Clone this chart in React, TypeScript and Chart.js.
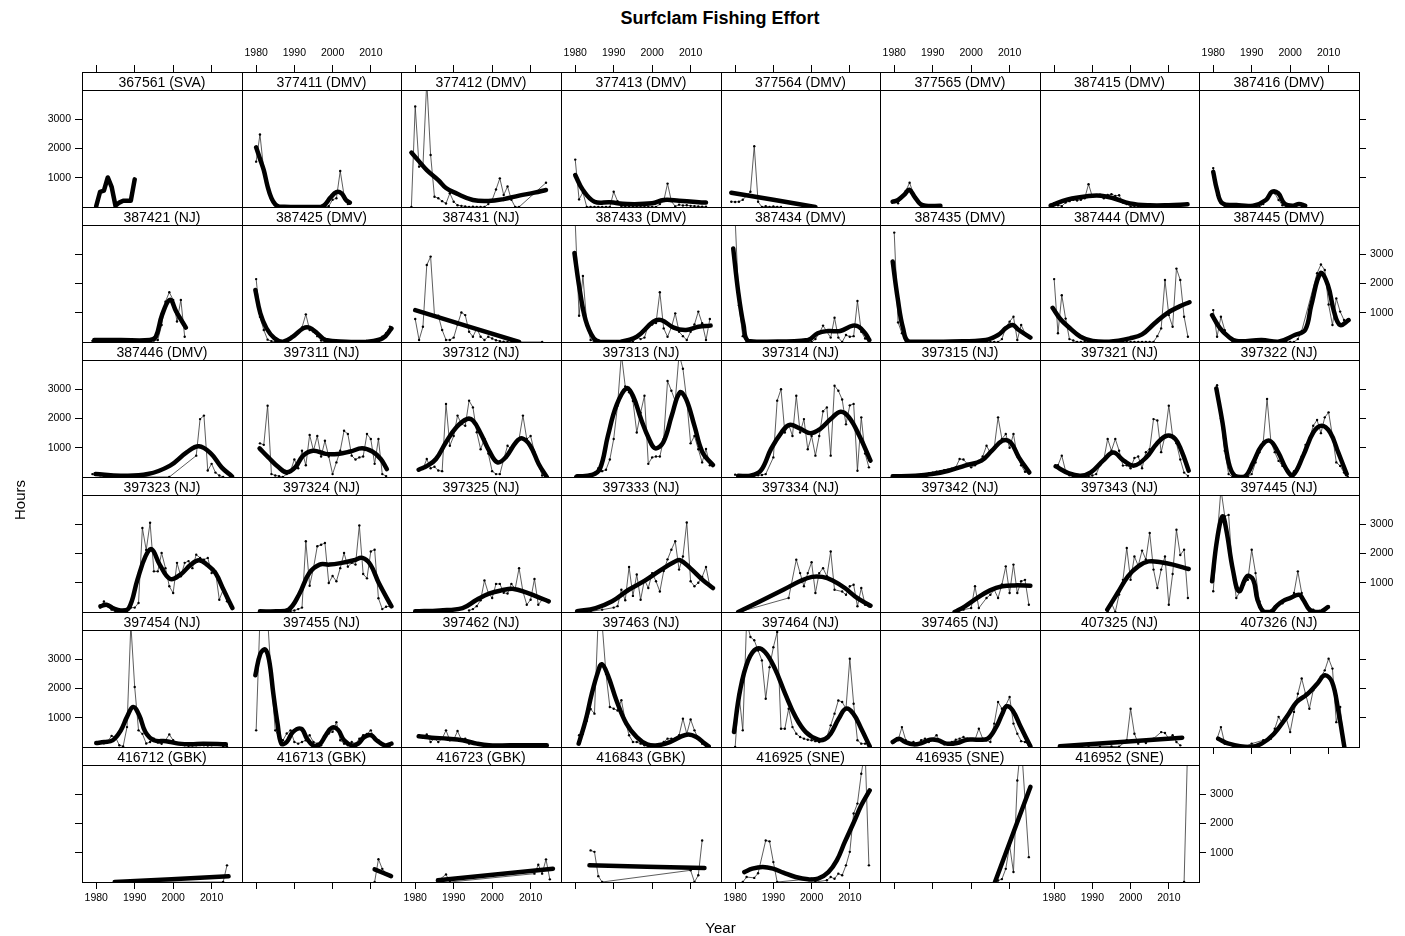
import React, { useEffect, useRef } from 'react';
import { Chart, registerables } from 'chart.js';

Chart.register(...registerables);

type Pt = [number, number];

// ---------- axis ticks / ranges ----------
const YEAR_TICKS = [1980, 1990, 2000, 2010];
const HOUR_TICKS = [1000, 2000, 3000];
const YEAR_MIN = 1976.3;
const YEAR_MAX = 2017.9;
const HOURS_TOP = 4000;

// ---------- data: yearly effort (thin line) and smoothed fit (thick line) ----------
const eff_367561: Pt[] = [[1980,30],[1981,520],[1982,560],[1983,1010],[1984,690],[1985,45],[1986,150],[1987,215],[1989,215],[1990,945]];
const fit_367561: Pt[] = [[1980,30],[1981,520],[1982,560],[1983,1010],[1984,690],[1985,45],[1986,150],[1987,215],[1989,215],[1990,945]];

const eff_377411: Pt[] = [[1980,1550],[1981,2480],[1982,1250],[1983,700],[1984,260],[1985,70],[1986,0],[1987,0],[1988,0],[1989,0],[1990,0],[1991,0],[1992,0],[1993,20],[1994,0],[1995,0],[1996,0],[1997,0],[1998,0],[1999,30],[2000,250],[2001,300],[2002,1230],[2003,400],[2004,100]];
const fit_377411: Pt[] = [[1980,2040],[1981,1650],[1982,1260],[1983,700],[1984,300],[1985,90],[1986,20],[1990,0],[1994,0],[1997,10],[1998,80],[1999.5,330],[2001,510],[2002.3,470],[2003.5,240],[2004.5,150]];

const eff_377412: Pt[] = [[1979,0],[1980,3440],[1981,1380],[1982,1400],[1983,4300],[1984,1780],[1985,350],[1986,300],[1987,200],[1988,120],[1989,470],[1990,180],[1991,60],[1992,40],[1993,20],[1994,0],[1995,10],[1996,0],[1997,0],[1998,0],[1999,100],[2000,240],[2001,600],[2002,980],[2003,410],[2004,700],[2005,250],[2006,0],[2007,0],[2014,830]];
const fit_377412: Pt[] = [[1979,1860],[1981,1560],[1983,1260],[1986,920],[1988,650],[1990.7,465],[1995,240],[1999,205],[2003,270],[2007,390],[2011,490],[2014,580]];

const eff_377413: Pt[] = [[1980,1620],[1981,260],[1982,500],[1983,0],[1984,0],[1985,0],[1986,0],[1987,0],[1988,0],[1989,0],[1990,520],[1991,200],[1992,0],[1993,0],[1994,0],[1995,0],[1996,0],[1997,0],[1998,0],[1999,0],[2000,0],[2001,0],[2002,100],[2003,200],[2004,800],[2005,200],[2006,20],[2007,80],[2008,50],[2009,60],[2010,40],[2011,30],[2012,20],[2013,10],[2014,10]];
const fit_377413: Pt[] = [[1980,1090],[1982,580],[1985,180],[1989,160],[1993.5,100],[2000,125],[2003,240],[2007,215],[2014,150]];

const eff_377564: Pt[] = [[1979,180],[1980,170],[1981,180],[1982,250],[1984,520],[1985,2080],[1986,180],[1987,0],[1988,30],[1989,0],[1990,20],[1991,0],[1992,0]];
const fit_377564: Pt[] = [[1979,490],[2001,0]];

const eff_377565: Pt[] = [[1980,205],[1981,130],[1982,350],[1983,550],[1984,830],[1985,450],[1986,200],[1987,50],[1988,20],[1989,0],[1990,0],[1991,0],[1992,0]];
const fit_377565: Pt[] = [[1979.6,180],[1981,240],[1982.8,445],[1983.9,590],[1985.3,350],[1986.8,100],[1988.2,40],[1992,40]];

const eff_387415: Pt[] = [[1979,80],[1980,130],[1981,60],[1982,30],[1983,150],[1984,200],[1985,250],[1986,220],[1987,250],[1988,300],[1989,780],[1990,350],[1991,380],[1992,420],[1993,300],[1994,410],[1995,440],[1996,380],[1997,400],[1998,150],[1999,100],[2000,20],[2001,0],[2002,0],[2003,0],[2004,30],[2005,0],[2006,20],[2007,0],[2008,50],[2009,0],[2010,40],[2011,60],[2012,80],[2013,60],[2014,100]];
const fit_387415: Pt[] = [[1979.1,45],[1983.6,260],[1989,375],[1992.3,385],[1995.5,300],[1999.8,125],[2005,57],[2010,60],[2014.9,90]];

const eff_387416: Pt[] = [[1980,1330],[1981,410],[1982,125],[1983,30],[1984,0],[1985,0],[1986,0],[1987,0],[1988,0],[1989,0],[1990,0],[1991,0],[1992,0],[1993,100],[1994,250],[1995,520],[1996,470],[1997,240],[1998,60],[1999,0],[2000,0],[2001,20],[2002,100],[2003,40],[2004,0]];
const fit_387416: Pt[] = [[1980,1200],[1981,580],[1982.4,125],[1986,68],[1990.4,45],[1993.7,240],[1995.3,520],[1996.9,470],[1998.5,125],[2000.7,45],[2002.3,100],[2003.9,45]];

const eff_387421: Pt[] = [[1979,40],[1980,50],[1981,60],[1982,40],[1983,50],[1984,60],[1985,40],[1986,50],[1987,60],[1988,50],[1989,40],[1990,60],[1991,50],[1992,40],[1993,50],[1994,60],[1995,50],[1996,70],[1997,580],[1998,1380],[1999,1700],[2000,1440],[2001,700],[2002,1440],[2003,180]];
const fit_387421: Pt[] = [[1979.5,70],[1986.4,68],[1993.9,68],[1995.5,180],[1997.1,920],[1999.2,1440],[2000.8,1040],[2003.3,490]];

const eff_387425: Pt[] = [[1980,2150],[1981,865],[1982,410],[1983,80],[1984,30],[1985,0],[1986,0],[1987,0],[1988,20],[1989,100],[1990,200],[1991,350],[1992,500],[1993,945],[1994,410],[1995,350],[1996,200],[1997,50],[1998,0],[1999,0],[2000,0],[2001,0],[2002,0],[2003,0],[2004,0],[2005,0],[2006,0],[2007,0],[2008,0],[2009,0],[2010,0],[2011,0],[2012,0],[2013,180],[2014,300],[2015,520]];
const fit_387425: Pt[] = [[1979.8,1780],[1981.1,980],[1982.7,470],[1984.8,125],[1987,11],[1989.6,180],[1992.3,465],[1993.9,490],[1996,300],[1998.2,68],[2003.5,11],[2008.8,11],[2013.1,125],[2015.4,465]];

const eff_387431: Pt[] = [[1980,785],[1981,70],[1982,520],[1983,2630],[1984,2920],[1985,920],[1986,900],[1987,410],[1988,70],[1989,70],[1990,150],[1991,600],[1992,1010],[1993,920],[1994,350],[1995,180],[1996,465],[1997,180],[1998,70],[1999,180],[2000,120],[2001,60],[2002,30],[2003,10],[2004,0],[2005,0],[2013,0]];
const fit_387431: Pt[] = [[1980,1090],[2007,0]];

const eff_387433: Pt[] = [[1980,4100],[1981,900],[1982,2260],[1983,640],[1984,68],[1985,0],[1986,0],[1987,0],[1988,0],[1989,0],[1990,0],[1991,0],[1992,0],[1993,0],[1994,0],[1995,0],[1996,180],[1997,100],[1998,150],[1999,580],[2000,600],[2001,650],[2002,1700],[2003,465],[2004,180],[2005,500],[2006,980],[2007,350],[2008,200],[2009,68],[2010,350],[2011,600],[2012,1040],[2013,640],[2014,68],[2015,785]];
const fit_387433: Pt[] = [[1979.8,3040],[1981.1,1840],[1982.7,750],[1984.8,125],[1986.4,11],[1991.8,11],[1996,180],[2000.3,695],[2002.4,750],[2005.6,490],[2008.8,410],[2012,520],[2015.2,560]];

const eff_387434: Pt[] = [[1980,4200],[1981,1260],[1982,200],[1983,0],[1984,0],[1985,0],[1986,0],[1987,0],[1988,0],[1989,0],[1990,0],[1991,0],[1992,0],[1993,0],[1994,0],[1995,0],[1996,0],[1997,0],[1998,0],[1999,0],[2000,0],[2001,100],[2002,300],[2003,560],[2004,350],[2005,150],[2006,830],[2007,150],[2008,0],[2009,240],[2010,180],[2011,200],[2012,1400],[2013,350],[2014,120],[2015,30]];
const fit_387434: Pt[] = [[1979.5,3200],[1980.8,1720],[1982.2,580],[1983.4,34],[1988.3,11],[1999,68],[2001.6,300],[2004.3,375],[2007.5,375],[2010.8,560],[2012.4,520],[2014,300],[2015.1,68]];

const eff_387435: Pt[] = [[1980,3740],[1981,670],[1982,300],[1983,0],[1984,0],[1985,0],[1986,0],[1987,0],[1988,0],[1989,0],[1990,0],[1991,0],[1992,0],[1993,0],[1994,0],[1995,0],[1996,0],[1997,0],[1998,0],[1999,0],[2000,0],[2001,0],[2002,0],[2003,0],[2004,0],[2005,0],[2006,0],[2007,0],[2008,100],[2009,500],[2010,695],[2011,865],[2012,68],[2013,580],[2014,300],[2015,150]];
const fit_387435: Pt[] = [[1979.6,2750],[1980.9,1490],[1982.3,465],[1983.9,11],[1995,20],[2003.8,68],[2007,240],[2009.2,490],[2010.8,580],[2012.4,410],[2015.4,150]];

const eff_387444: Pt[] = [[1980,2150],[1981,300],[1982,1600],[1983,800],[1984,100],[1985,50],[1986,0],[1987,0],[1988,0],[1989,0],[1990,0],[1991,0],[1992,0],[1993,0],[1994,0],[1995,0],[1996,0],[1997,0],[1998,0],[1999,0],[2000,0],[2001,0],[2002,0],[2003,0],[2004,0],[2005,0],[2006,0],[2007,200],[2008,465],[2009,2120],[2010,920],[2011,520],[2012,2510],[2013,2120],[2014,865],[2015,180]];
const fit_387444: Pt[] = [[1979.6,1170],[1981.5,805],[1983.7,520],[1986.9,180],[1990.1,34],[1994.4,11],[1999.8,125],[2003,260],[2006.3,640],[2009.5,980],[2012.7,1210],[2015.4,1360]];

const eff_387445: Pt[] = [[1980,1090],[1981,180],[1982,865],[1983,400],[1984,180],[1985,0],[1986,0],[1987,0],[1988,0],[1989,0],[1990,0],[1991,0],[1992,0],[1993,0],[1994,0],[1995,0],[1996,0],[1997,0],[1998,0],[1999,0],[2000,0],[2001,0],[2002,100],[2003,375],[2007,2350],[2008,2650],[2009,2460],[2010,1280],[2011,580],[2012,1490],[2013,1040],[2014,750]];
const fit_387445: Pt[] = [[1979.7,920],[1981.8,465],[1984,180],[1986.1,34],[1992.6,68],[1996.9,11],[2001.2,240],[2003.9,410],[2005.5,1260],[2007.9,2350],[2009.8,1950],[2011.4,1040],[2013,580],[2015.2,750]];

const eff_387446: Pt[] = [[1979,100],[1980,80],[1981,60],[1982,50],[1983,40],[1984,30],[1985,20],[1986,10],[1987,0],[1988,0],[1989,0],[1990,0],[1999,0],[2006,730],[2007,1980],[2008,2100],[2009,220],[2010,450],[2011,150],[2012,50],[2013,0]];
const fit_387446: Pt[] = [[1979.8,100],[1986.4,45],[1993.4,100],[1999.2,390],[2003.5,840],[2006.7,1050],[2009.9,790],[2012.6,330],[2015.3,23]];

const eff_397311: Pt[] = [[1981,1150],[1982,1100],[1983,2440],[1984,100],[1985,50],[1986,30],[1987,0],[1988,100],[1989,200],[1990,600],[1991,300],[1992,900],[1993,400],[1994,1440],[1995,900],[1996,1400],[1997,700],[1998,1240],[1999,700],[2000,100],[2001,500],[2002,900],[2003,1580],[2004,1470],[2005,730],[2006,600],[2007,670],[2008,700],[2009,1470],[2010,1300],[2011,450],[2012,1300],[2013,100],[2014,30]];
const fit_397311: Pt[] = [[1980.9,980],[1983.2,670],[1985.9,330],[1988,160],[1990.2,330],[1992.3,730],[1994.9,900],[1998.2,790],[2001.4,790],[2004.6,870],[2007.7,980],[2010.4,870],[2012.6,615],[2014.2,270]];

const eff_397312: Pt[] = [[1981,270],[1982,270],[1983,615],[1984,300],[1985,350],[1986,220],[1987,200],[1988,2500],[1989,1070],[1990,1400],[1991,2100],[1992,1810],[1993,1750],[1994,2610],[1995,2380],[1996,1530],[1997,950],[1998,1300],[1999,800],[2000,200],[2001,100],[2002,100],[2003,600],[2004,1070],[2005,950],[2006,1200],[2007,1300],[2008,2100],[2009,1300],[2010,1400],[2011,850],[2012,450],[2013,50]];
const fit_397312: Pt[] = [[1980.9,250],[1983.2,390],[1985.4,615],[1988,1190],[1990.7,1700],[1993.4,1980],[1995,1930],[1997.1,1470],[1999.2,900],[2001.4,500],[2003.5,670],[2006.2,1190],[2007.8,1320],[2009.9,1070],[2012.1,445],[2014.2,0]];

const eff_397313: Pt[] = [[1980,20],[1981,30],[1982,50],[1983,60],[1984,100],[1985,150],[1986,300],[1987,200],[1988,250],[1989,600],[1990,1300],[1991,2440],[1992,4200],[1993,3100],[1994,2900],[1995,2600],[1996,1520],[1997,2200],[1998,2780],[1999,450],[2000,670],[2001,700],[2002,700],[2003,1300],[2004,3280],[2005,2950],[2006,2600],[2007,4200],[2008,3700],[2009,2610],[2010,1150],[2011,1400],[2012,950],[2013,500],[2014,960],[2015,400]];
const fit_397313: Pt[] = [[1980.5,23],[1984.3,68],[1986.4,270],[1988.5,1410],[1990.7,2440],[1993.3,3030],[1995,2780],[1997.1,1980],[1999.2,1300],[2000.8,980],[2002.9,1190],[2005.1,2100],[2007.2,2890],[2008.8,2670],[2011,1750],[2013.1,840],[2015.8,410]];

const eff_397314: Pt[] = [[1980,80],[1981,60],[1982,40],[1983,50],[1984,60],[1985,70],[1986,60],[1987,70],[1988,100],[1990,670],[1991,2610],[1992,3000],[1993,1520],[1994,1800],[1995,1400],[1996,2780],[1997,1520],[1998,1980],[1999,950],[2000,1400],[2001,730],[2002,1400],[2003,2250],[2004,2380],[2005,730],[2006,3120],[2007,2950],[2008,2650],[2009,1800],[2010,2450],[2011,2500],[2012,215],[2013,2040],[2014,800],[2015,330]];
const fit_397314: Pt[] = [[1980.8,45],[1984,45],[1986.7,215],[1989.4,960],[1992.1,1520],[1994.2,1780],[1996.9,1660],[1999.6,1500],[2002.2,1640],[2005,1980],[2007.6,2230],[2009.8,2040],[2012.5,1410],[2015.4,560]];

const eff_397315: Pt[] = [[1980,30],[1981,20],[1982,30],[1983,40],[1984,30],[1985,50],[1986,60],[1987,80],[1988,100],[1989,120],[1990,150],[1991,180],[1992,200],[1993,230],[1994,250],[1995,280],[1996,330],[1997,615],[1998,600],[1999,450],[2000,330],[2001,400],[2002,550],[2003,700],[2004,1070],[2005,820],[2006,1000],[2007,2040],[2008,1300],[2009,1470],[2010,1000],[2011,1470],[2012,700],[2013,400],[2014,180],[2015,120]];
const fit_397315: Pt[] = [[1979.6,23],[1985.5,45],[1989.8,100],[1994.1,215],[1998.4,390],[2002.7,560],[2005.4,900],[2008.1,1240],[2010.2,1190],[2012.4,670],[2015.1,160]];

const eff_397321: Pt[] = [[1981,400],[1982,730],[1983,200],[1984,60],[1985,20],[1986,0],[1987,0],[1988,0],[1989,10],[1990,50],[1991,100],[1992,400],[1993,600],[1994,1300],[1995,900],[1996,1300],[1997,900],[1998,390],[1999,400],[2000,300],[2001,650],[2002,700],[2003,300],[2004,850],[2005,950],[2006,1980],[2007,1930],[2008,850],[2009,1400],[2010,2440],[2011,1400],[2012,1150],[2013,600],[2014,150],[2015,40]];
const fit_397321: Pt[] = [[1980.4,365],[1983.7,135],[1986.9,45],[1989.6,160],[1992.8,560],[1995.5,840],[1998.2,560],[2000.9,390],[2004.1,670],[2006.8,1130],[2009.5,1410],[2011.7,1300],[2013.3,900],[2015.2,215]];

const eff_397322: Pt[] = [[1981,3140],[1982,2000],[1983,900],[1984,100],[1985,0],[1986,0],[1987,0],[1988,0],[1989,0],[1990,100],[1991,500],[1992,850],[1993,1200],[1994,2670],[1995,1200],[1996,850],[1997,550],[1998,380],[1999,250],[2000,100],[2001,200],[2002,350],[2003,700],[2004,1100],[2005,1300],[2006,1750],[2007,1950],[2008,1500],[2009,2040],[2010,2210],[2011,1400],[2012,500],[2013,380],[2014,150],[2015,0]];
const fit_397322: Pt[] = [[1980.8,3030],[1982.4,1870],[1984,500],[1985.6,45],[1988.3,23],[1990.4,500],[1992.6,1070],[1994.7,1240],[1996.9,840],[1999,270],[2000.7,60],[2003.4,730],[2006,1520],[2008.2,1750],[2010.4,1520],[2012.5,840],[2014.7,100]];

const eff_397323: Pt[] = [[1981,150],[1982,360],[1983,200],[1984,80],[1985,0],[1986,0],[1987,0],[1988,20],[1989,150],[1990,150],[1991,310],[1992,2870],[1993,2120],[1994,3050],[1995,1390],[1996,1390],[1997,2020],[1998,1500],[1999,880],[2000,650],[2001,1680],[2002,1220],[2003,1680],[2004,1740],[2005,1500],[2006,1960],[2007,1850],[2008,1790],[2009,1850],[2010,1330],[2011,1390],[2012,420],[2013,760],[2014,365],[2015,195]];
const fit_397323: Pt[] = [[1981.1,195],[1982.7,250],[1984.3,135],[1986.4,55],[1988.5,135],[1990.7,1100],[1992.8,1900],[1994.4,2150],[1996.5,1620],[1999.2,1130],[2001.9,1280],[2004.6,1620],[2006.7,1770],[2008.8,1620],[2011,1330],[2013.1,760],[2015.4,135]];

const eff_397324: Pt[] = [[1981,0],[1982,0],[1983,10],[1984,0],[1985,0],[1986,10],[1987,0],[1988,20],[1989,30],[1990,50],[1991,100],[1992,150],[1993,2420],[1994,900],[1995,1500],[1996,2250],[1997,2300],[1998,2360],[1999,990],[2000,1230],[2001,1050],[2002,1500],[2003,2020],[2004,1550],[2005,1680],[2006,1620],[2007,2960],[2008,1300],[2009,1150],[2010,2070],[2011,2130],[2012,470],[2013,100],[2014,180],[2015,200]];
const fit_397324: Pt[] = [[1981,23],[1985.3,23],[1988.5,80],[1991.2,590],[1993.9,1330],[1996.6,1620],[1999.2,1620],[2002.4,1680],[2005.6,1770],[2007.8,1850],[2009.9,1620],[2012.1,990],[2015.4,195]];

const eff_397325: Pt[] = [[1994,50],[1995,100],[1996,200],[1997,400],[1998,1080],[1999,650],[2000,480],[2001,960],[2002,960],[2003,660],[2004,630],[2005,960],[2006,800],[2007,1500],[2008,700],[2009,250],[2010,420],[2011,1130],[2012,250],[2013,420],[2014,420]];
const fit_397325: Pt[] = [[1980,23],[1986.4,55],[1992.3,135],[1996,420],[1999.2,630],[2002.4,740],[2005.6,790],[2008.8,670],[2011.5,535],[2014.7,365]];

const eff_397333: Pt[] = [[1981,0],[1984,20],[1987,80],[1990,150],[1991,200],[1992,760],[1993,400],[1994,1540],[1995,550],[1996,1280],[1997,420],[1998,1100],[1999,820],[2000,1330],[2001,1050],[2002,700],[2003,1400],[2004,1800],[2005,2130],[2006,2420],[2007,1450],[2008,1900],[2009,3060],[2010,1050],[2011,880],[2012,1000],[2013,1200],[2014,1540],[2015,880]];
const fit_397333: Pt[] = [[1980.5,23],[1985.3,135],[1989.6,365],[1993.9,760],[1998.2,1080],[2002.4,1450],[2005.6,1700],[2007.2,1770],[2009.9,1500],[2013.1,1100],[2015.8,820]];

const eff_397334: Pt[] = [[1981,0],[1994,480],[1996,1790],[1997,1330],[1998,880],[1999,1330],[2000,1700],[2001,650],[2002,1330],[2003,1500],[2004,1220],[2005,2070],[2006,760],[2008,700],[2009,590],[2010,880],[2011,930],[2012,195],[2013,820],[2014,250],[2015,195]];
const fit_397334: Pt[] = [[1980.8,0],[1992.6,760],[1996.9,1050],[2000.1,1200],[2002.8,1200],[2005.5,1080],[2008.7,820],[2011.9,480],[2015.4,215]];

const eff_397342: Pt[] = [[1996,0],[1998,80],[2000,135],[2001,880],[2002,135],[2004,480],[2005,590],[2006,760],[2007,480],[2008,940],[2009,1560],[2010,650],[2011,1620],[2012,650],[2013,1050],[2014,1100],[2015,250]];
const fit_397342: Pt[] = [[1995.7,0],[1998.4,195],[2001.6,480],[2004.9,740],[2008.1,880],[2011.3,910],[2015.4,900]];

const eff_397343: Pt[] = [[1994,20],[1995,300],[1996,0],[1997,600],[1998,1100],[1999,2190],[2000,1100],[2001,1900],[2002,1580],[2003,2100],[2004,1800],[2005,2700],[2006,1450],[2007,820],[2008,1450],[2009,1900],[2010,250],[2011,1300],[2012,2810],[2013,1950],[2014,2130],[2015,480]];
const fit_397343: Pt[] = [[1993.9,80],[1996.6,650],[1999.3,1220],[2002,1560],[2004.7,1730],[2007.9,1700],[2011.1,1620],[2015.2,1470]];

const eff_397445: Pt[] = [[1980,710],[1981,2500],[1982,4200],[1983,3270],[1984,3320],[1985,1450],[1986,480],[1987,710],[1988,940],[1989,1100],[1990,2130],[1991,1330],[1992,365],[1993,80],[1994,0],[1995,50],[1996,190],[1997,250],[1998,300],[1999,420],[2000,480],[2001,650],[2002,1390],[2003,650],[2004,300],[2005,135],[2006,80],[2007,0],[2008,20],[2009,100],[2010,200]];
const fit_397445: Pt[] = [[1979.7,1050],[1981,2470],[1982.4,3270],[1983.4,2810],[1985.1,1450],[1986.7,710],[1988.8,1220],[1990.4,1100],[1991.5,420],[1993.1,0],[1995,0],[1996.4,195],[1998,365],[2000.1,480],[2002.3,590],[2003.4,420],[2005,80],[2006.6,0],[2008.2,23],[2009.8,170]];

const eff_397454: Pt[] = [[1980,150],[1981,150],[1982,130],[1983,200],[1984,380],[1985,340],[1986,60],[1987,20],[1988,680],[1989,4200],[1990,2050],[1991,570],[1992,450],[1993,120],[1994,170],[1995,280],[1996,150],[1997,110],[1998,230],[1999,430],[2000,230],[2001,110],[2002,80],[2003,60],[2004,40],[2005,50],[2006,60],[2007,70],[2008,60],[2009,50],[2010,60],[2011,80],[2012,90],[2013,30],[2014,20]];
const fit_397454: Pt[] = [[1980,135],[1982.1,170],[1984.3,230],[1986.4,570],[1988,1030],[1989.6,1370],[1991.2,1080],[1992.8,510],[1995,230],[1998.2,200],[2001.4,115],[2004.6,90],[2007.8,115],[2013.7,90]];

const eff_397455: Pt[] = [[1980,570],[1981,4400],[1982,4600],[1983,4400],[1984,2280],[1985,570],[1986,340],[1987,230],[1988,460],[1989,570],[1990,170],[1991,115],[1992,170],[1993,230],[1994,400],[1995,170],[1996,115],[1997,60],[1998,400],[1999,460],[2000,520],[2001,850],[2002,230],[2003,115],[2004,60],[2005,170],[2006,115],[2007,280],[2008,400],[2009,450],[2010,570],[2011,280],[2012,230],[2013,115],[2014,60],[2015,40]];
const fit_397455: Pt[] = [[1979.8,2450],[1981.1,3190],[1982.4,3330],[1983.4,2960],[1984.5,1820],[1985.6,800],[1986.6,115],[1988,170],[1989.6,510],[1991.8,625],[1993.3,285],[1994.9,57],[1996.6,90],[1998.2,400],[1999.8,660],[2001.4,590],[2003,230],[2005.1,57],[2006.7,115],[2008.3,340],[2010.1,400],[2011.5,230],[2013.7,57],[2015.4,115]];

const eff_397462: Pt[] = [[1981,400],[1982,320],[1983,430],[1984,170],[1985,285],[1986,170],[1987,285],[1988,570],[1989,230],[1990,250],[1991,545],[1992,250],[1993,285],[1994,115],[1995,170],[1996,115],[1997,80],[1998,60],[1999,40],[2000,30],[2001,20],[2002,30],[2003,40],[2004,20],[2005,30],[2006,40],[2007,30],[2008,20],[2009,30],[2010,40],[2011,60],[2012,30],[2013,20],[2014,10]];
const fit_397462: Pt[] = [[1980.9,365],[1984.3,320],[1988.5,285],[1992.3,230],[1996,115],[1999.2,57],[2004.6,57],[2014.2,57]];

const eff_397463: Pt[] = [[1981,400],[1982,450],[1983,900],[1984,1300],[1985,1140],[1986,4500],[1987,4200],[1988,2500],[1989,1370],[1990,1310],[1991,1250],[1992,1600],[1993,910],[1994,400],[1995,170],[1996,170],[1997,115],[1998,60],[1999,40],[2000,23],[2001,23],[2002,60],[2003,170],[2004,285],[2005,285],[2006,285],[2007,400],[2008,970],[2009,450],[2010,940],[2011,570],[2012,285],[2013,115],[2014,23]];
const fit_397463: Pt[] = [[1980.9,115],[1982.7,910],[1984.3,1820],[1985.9,2560],[1986.9,2830],[1988.5,2450],[1990.7,1600],[1993.3,800],[1996,340],[1998.7,90],[2001.4,57],[2004.6,170],[2007.2,340],[2009.4,430],[2011.5,340],[2013.7,115],[2014.7,23]];

const eff_397464: Pt[] = [[1980,0],[1981,1820],[1982,570],[1983,4300],[1984,3760],[1985,3650],[1986,3300],[1987,2960],[1988,1650],[1989,2730],[1990,3410],[1991,3930],[1992,625],[1993,625],[1994,1310],[1995,680],[1996,455],[1997,340],[1998,285],[1999,250],[2000,230],[2001,200],[2002,170],[2003,230],[2004,340],[2005,740],[2006,1140],[2007,1590],[2008,1540],[2009,1310],[2010,3020],[2011,1480],[2012,230],[2013,115],[2014,115]];
const fit_397464: Pt[] = [[1979.7,510],[1981.3,1940],[1983.4,2960],[1985.6,3360],[1987.8,3250],[1990.4,2680],[1993.1,1820],[1995.8,1030],[1998.5,510],[2001.7,250],[2003.5,270],[2005,455],[2007.1,970],[2009,1310],[2010.9,1140],[2013,625],[2015.2,23]];

const eff_397465: Pt[] = [[1980,170],[1981,230],[1982,680],[1983,230],[1984,115],[1985,170],[1986,90],[1987,230],[1988,285],[1989,170],[1991,400],[1992,170],[1993,90],[1994,115],[1995,170],[1996,250],[1997,285],[1998,340],[1999,285],[2000,250],[2001,250],[2002,625],[2003,285],[2004,230],[2005,170],[2006,800],[2007,1540],[2008,1310],[2009,1420],[2010,1710],[2011,800],[2012,455],[2013,200],[2014,170],[2015,60]];
const fit_397465: Pt[] = [[1979.6,170],[1981.2,285],[1982.8,170],[1985,90],[1987.1,135],[1989.3,250],[1991.4,230],[1993.6,115],[1996.3,135],[1998.9,250],[2001.6,250],[2004.3,285],[2006.5,680],[2008.1,1140],[2009.2,1390],[2010.8,1250],[2012.9,680],[2015.4,23]];

const eff_407325: Pt[] = [[1989,0],[1992,10],[1995,20],[1997,10],[1999,230],[2000,1310],[2001,455],[2002,115],[2003,230],[2004,135],[2005,230],[2006,285],[2008,510],[2009,480],[2010,285],[2011,400],[2012,170],[2013,57]];
const fit_407325: Pt[] = [[1981.5,23],[2013.5,320]];

const eff_407326: Pt[] = [[1981,285],[1982,680],[1983,115],[1985,60],[1988,0],[1990,115],[1993,230],[1995,285],[1996,625],[1997,1030],[1998,800],[1999,970],[2000,510],[2001,1200],[2002,1820],[2003,2340],[2004,1820],[2005,1310],[2006,1940],[2007,2170],[2008,2400],[2009,2620],[2010,3020],[2011,2680],[2012,850],[2013,1370],[2014,0]];
const fit_407326: Pt[] = [[1981.3,285],[1984,115],[1989.4,0],[1992.6,115],[1995.8,455],[1999.1,1030],[2001.7,1540],[2004.4,1800],[2007.1,2170],[2009,2450],[2010.9,2220],[2012.5,1250],[2014.1,0]];

const eff_416712: Pt[] = [[1985,0],[2013,0],[2014,570]];
const fit_416712: Pt[] = [[1984.8,0],[2014.4,195]];

const eff_416713: Pt[] = [[2011,0],[2012,780],[2013,450],[2014,300],[2015,200]];
const fit_416713: Pt[] = [[2011,430],[2015.3,200]];

const eff_416723: Pt[] = [[1986,50],[1988,260],[1989,0],[2011,285],[2012,590],[2013,285],[2014,775],[2015,90]];
const fit_416723: Pt[] = [[1985.9,57],[2015.8,455]];

const eff_416843: Pt[] = [[1984,1080],[1985,1030],[1986,200],[1987,0],[2010,400],[2011,0],[2012,230],[2013,1420]];
const fit_416843: Pt[] = [[1983.7,570],[2013.6,480]];

const eff_416925: Pt[] = [[1982,0],[1983,170],[1985,140],[1986,300],[1988,1420],[1989,1390],[1990,680],[1991,0],[2000,110],[2001,0],[2004,60],[2005,170],[2006,110],[2007,285],[2008,230],[2009,570],[2010,1030],[2011,2340],[2012,2680],[2013,3700],[2014,4500],[2015,570]];
const fit_416925: Pt[] = [[1982.4,340],[1984.5,455],[1987.2,510],[1989.9,455],[1992.6,320],[1995.8,170],[1999.1,90],[2001.7,115],[2004.4,340],[2006.6,740],[2008.7,1370],[2010.9,2000],[2013,2620],[2015.2,3130]];

const eff_416935: Pt[] = [[2006,0],[2007,50],[2008,100],[2009,450],[2010,1250],[2011,340],[2012,3470],[2013,4800],[2015,850]];
const fit_416935: Pt[] = [[2006.2,0],[2015.4,3250]];

const eff_416952: Pt[] = [[2014,0],[2015,5000]];
const fit_416952: Pt[] = [];

const panelNames = [
  '367561 (SVA)', '377411 (DMV)', '377412 (DMV)', '377413 (DMV)', '377564 (DMV)', '377565 (DMV)', '387415 (DMV)', '387416 (DMV)',
  '387421 (NJ)', '387425 (DMV)', '387431 (NJ)', '387433 (DMV)', '387434 (DMV)', '387435 (DMV)', '387444 (DMV)', '387445 (DMV)',
  '387446 (DMV)', '397311 (NJ)', '397312 (NJ)', '397313 (NJ)', '397314 (NJ)', '397315 (NJ)', '397321 (NJ)', '397322 (NJ)',
  '397323 (NJ)', '397324 (NJ)', '397325 (NJ)', '397333 (NJ)', '397334 (NJ)', '397342 (NJ)', '397343 (NJ)', '397445 (NJ)',
  '397454 (NJ)', '397455 (NJ)', '397462 (NJ)', '397463 (NJ)', '397464 (NJ)', '397465 (NJ)', '407325 (NJ)', '407326 (NJ)',
  '416712 (GBK)', '416713 (GBK)', '416723 (GBK)', '416843 (GBK)', '416925 (SNE)', '416935 (SNE)', '416952 (SNE)',
];

const effortSeries: Pt[][] = [
  eff_367561, eff_377411, eff_377412, eff_377413, eff_377564, eff_377565, eff_387415, eff_387416,
  eff_387421, eff_387425, eff_387431, eff_387433, eff_387434, eff_387435, eff_387444, eff_387445,
  eff_387446, eff_397311, eff_397312, eff_397313, eff_397314, eff_397315, eff_397321, eff_397322,
  eff_397323, eff_397324, eff_397325, eff_397333, eff_397334, eff_397342, eff_397343, eff_397445,
  eff_397454, eff_397455, eff_397462, eff_397463, eff_397464, eff_397465, eff_407325, eff_407326,
  eff_416712, eff_416713, eff_416723, eff_416843, eff_416925, eff_416935, eff_416952,
];

const fitSeries: Pt[][] = [
  fit_367561, fit_377411, fit_377412, fit_377413, fit_377564, fit_377565, fit_387415, fit_387416,
  fit_387421, fit_387425, fit_387431, fit_387433, fit_387434, fit_387435, fit_387444, fit_387445,
  fit_387446, fit_397311, fit_397312, fit_397313, fit_397314, fit_397315, fit_397321, fit_397322,
  fit_397323, fit_397324, fit_397325, fit_397333, fit_397334, fit_397342, fit_397343, fit_397445,
  fit_397454, fit_397455, fit_397462, fit_397463, fit_397464, fit_397465, fit_407325, fit_407326,
  fit_416712, fit_416713, fit_416723, fit_416843, fit_416925, fit_416935, fit_416952,
];

const polylineFitPanels = ['367561 (SVA)'];

// ---------- layout ----------
const FONT = '"Liberation Sans", Arial, Helvetica, sans-serif';
const GRID_LEFT = 82;
const GRID_RIGHT = 1359;
const GRID_TOP = 72;
const ROW_H = 135;
const STRIP_H = 18;
const NCOL = 8;
const MARGIN = 40;
const COL_W = (GRID_RIGHT - GRID_LEFT) / NCOL;
const PANEL_H = ROW_H - STRIP_H;
const AREA_MAX = (HOURS_TOP * ROW_H) / PANEL_H;
const colLeft = (c: number) => Math.round(GRID_LEFT + c * COL_W);

const framePlugin = {
  id: 'latticeFrame',
  afterDatasetsDraw(chart: any) {
    const { ctx, chartArea } = chart;
    const l = Math.round(chartArea.left);
    const t = Math.round(chartArea.top);
    const r = Math.round(chartArea.right);
    const b = Math.round(chartArea.bottom);
    ctx.save();
    ctx.fillStyle = '#ffffff';
    ctx.fillRect(l, t, r - l, STRIP_H);
    ctx.strokeStyle = '#000000';
    ctx.lineWidth = 1;
    ctx.strokeRect(l + 0.5, t + 0.5, r - l, b - t);
    ctx.beginPath();
    ctx.moveTo(l, t + STRIP_H + 0.5);
    ctx.lineTo(r + 1, t + STRIP_H + 0.5);
    ctx.stroke();
    ctx.restore();
  },
};

function Panel({ index }: { index: number }) {
  const ref = useRef<HTMLCanvasElement | null>(null);
  const r = Math.floor(index / NCOL);
  const c = index % NCOL;
  const left = colLeft(c);
  const width = colLeft(c + 1) - left;
  const top = GRID_TOP + r * ROW_H;

  useEffect(() => {
    if (!ref.current) return;
    const n = panelNames.length;
    const hasTop = r === 0;
    const hasBottom = index + NCOL >= n;
    const hasLeft = c === 0;
    const hasRight = c === NCOL - 1 || index === n - 1;
    const tickFont = { family: FONT, size: 10.5 };
    const grid = (on: boolean) => ({
      display: on, drawOnChartArea: false, drawTicks: true, tickLength: 7, color: '#000', lineWidth: 1,
    });
    const xAxis = (pos: string, on: boolean, labels: boolean, pad: number) => ({
      type: 'linear', position: pos, min: YEAR_MIN, max: YEAR_MAX,
      afterBuildTicks: (s: any) => { s.ticks = YEAR_TICKS.map((v) => ({ value: v })); },
      afterFit: (s: any) => { s.height = MARGIN; },
      grid: grid(on), border: { display: false },
      ticks: {
        display: on && labels, padding: pad, color: '#000', font: tickFont,
        autoSkip: false, maxRotation: 0, minRotation: 0, callback: (v: any) => String(v),
      },
    });
    const yAxis = (pos: string, on: boolean, labels: boolean) => ({
      type: 'linear', position: pos, min: 0, max: AREA_MAX,
      afterBuildTicks: (s: any) => { s.ticks = HOUR_TICKS.map((v) => ({ value: v })); },
      afterFit: (s: any) => { s.width = MARGIN; },
      grid: grid(on), border: { display: false },
      ticks: {
        display: on && labels, padding: 4, color: '#000', font: tickFont,
        autoSkip: false, callback: (v: any) => String(v),
      },
    });

    const name = panelNames[index];
    const chart = new Chart(ref.current, {
      type: 'line',
      data: {
        datasets: [
          {
            data: fitSeries[index].map(([x, y]) => ({ x, y })),
            borderColor: '#000000', borderWidth: 4.5, pointRadius: 0,
            tension: polylineFitPanels.includes(name) ? 0 : 0.4,
            borderCapStyle: 'round', borderJoinStyle: 'round', fill: false, clip: 0, order: 0,
          },
          {
            data: effortSeries[index].map(([x, y]) => ({ x, y })),
            borderColor: '#333333', borderWidth: 0.8, pointRadius: 1.2,
            pointBackgroundColor: '#000000', pointBorderWidth: 0, tension: 0, fill: false, clip: 0, order: 1,
          },
        ],
      },
      options: {
        responsive: false,
        animation: false,
        devicePixelRatio: 1,
        events: [],
        layout: { padding: 0 },
        plugins: { legend: { display: false }, tooltip: { enabled: false }, title: { display: false } },
        scales: {
          x: xAxis('bottom', hasBottom, c % 2 === 0, 3),
          xTop: xAxis('top', hasTop, c % 2 === 1, 6),
          y: yAxis('left', hasLeft, r % 2 === 0),
          yRight: yAxis('right', hasRight, r % 2 === 1),
        },
      } as any,
      plugins: [framePlugin],
    } as any);
    return () => chart.destroy();
  }, []);

  return (
    <canvas
      ref={ref}
      width={width + 2 * MARGIN}
      height={ROW_H + 2 * MARGIN}
      style={{
        position: 'absolute', left: left - MARGIN, top: top - MARGIN,
        width: width + 2 * MARGIN, height: ROW_H + 2 * MARGIN,
      }}
    />
  );
}

export default function App() {
  return (
    <div style={{ position: 'absolute', left: 0, top: 0, width: 1405, height: 936, background: '#fff', fontFamily: FONT, color: '#000', overflow: 'hidden' }}>
      {panelNames.map((_, i) => <Panel key={i} index={i} />)}
      {panelNames.map((name, i) => {
        const r = Math.floor(i / NCOL);
        const c = i % NCOL;
        const left = colLeft(c);
        const width = colLeft(c + 1) - left;
        return (
          <div key={'s' + i} style={{
            position: 'absolute', left, top: GRID_TOP + r * ROW_H + 1, width, height: STRIP_H,
            lineHeight: STRIP_H + 'px', textAlign: 'center', fontSize: 14, zIndex: 5, whiteSpace: 'nowrap',
          }}>{name}</div>
        );
      })}
      <div style={{ position: 'absolute', left: 0, top: 7, width: 1440, textAlign: 'center', fontSize: 18, fontWeight: 'bold', lineHeight: '22px', zIndex: 5 }}>
        Surfclam Fishing Effort
      </div>
      <div style={{ position: 'absolute', left: 20 - 40, top: 500 - 10, width: 80, height: 20, lineHeight: '20px', textAlign: 'center', fontSize: 15, transform: 'rotate(-90deg)', zIndex: 5 }}>
        Hours
      </div>
      <div style={{ position: 'absolute', left: 0, top: 918, width: 1441, textAlign: 'center', fontSize: 15, lineHeight: '20px', zIndex: 5 }}>
        Year
      </div>
    </div>
  );
}
